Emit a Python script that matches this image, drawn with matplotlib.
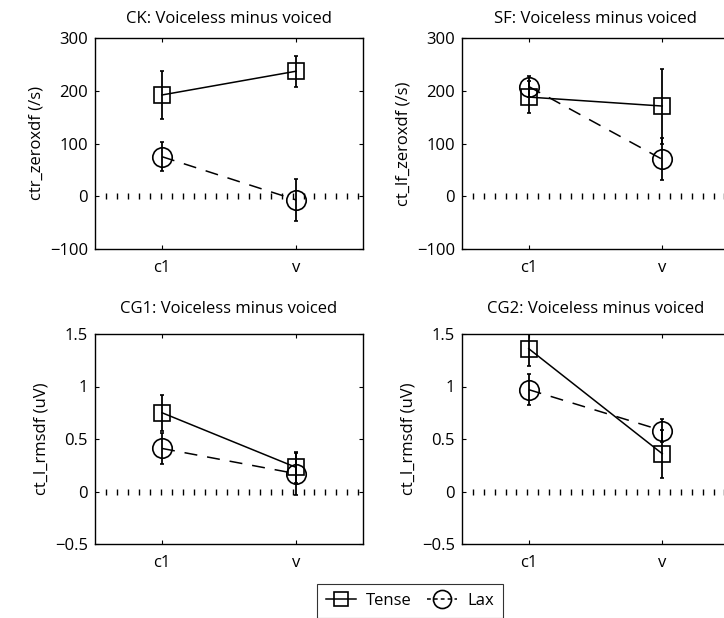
import numpy as np
import matplotlib
matplotlib.use("Agg")
import matplotlib.pyplot as plt
from matplotlib.lines import Line2D

plt.rcParams['font.family'] = ['Open Sans', 'DejaVu Sans']

categories = ['c1', 'v']
titles = ['CK: Voiceless minus voiced', 'SF: Voiceless minus voiced',
          'CG1: Voiceless minus voiced', 'CG2: Voiceless minus voiced']
ylabels = ['ctr_zeroxdf (/s)', 'ct_lf_zeroxdf (/s)', 'ct_l_rmsdf (uV)', 'ct_l_rmsdf (uV)']

tense_vals = [[192, 237], [188, 171], [0.75, 0.23], [1.36, 0.36]]
tense_err = [[45, 29], [30, 71], [0.17, 0.15], [0.16, 0.23]]
lax_vals = [[75, -7], [208, 70], [0.41, 0.17], [0.97, 0.58]]
lax_err = [[27, 40], [20, 40], [0.15, 0.20], [0.15, 0.11]]

ylims = [(-100, 300), (-100, 300), (-0.5, 1.5), (-0.5, 1.5)]
yticks = [[-100, 0, 100, 200, 300], [-100, 0, 100, 200, 300],
          [-0.5, 0, 0.5, 1, 1.5], [-0.5, 0, 0.5, 1, 1.5]]
yticklabels = [['\u2212100', '0', '100', '200', '300'], ['\u2212100', '0', '100', '200', '300'],
               ['\u22120.5', '0', '0.5', '1', '1.5'], ['\u22120.5', '0', '0.5', '1', '1.5']]
title_pads = [10.8, 10.8, 15, 15]

W, H = 724, 618
fig = plt.figure(figsize=(W / 100, H / 100), dpi=100)
rects = [(95, 38, 268, 211), (462, 38, 267, 211), (95, 334, 268, 210), (462, 334, 267, 210)]

xpos = np.arange(1, len(categories) + 1)
fs = 12
for i, (l, t, w, h) in enumerate(rects):
    ax = fig.add_axes([l / W, 1 - (t + h) / H, w / W, h / H])
    # zero reference dotted line
    zx = np.arange(0.58, 2.49, 0.082)
    ax.plot(zx, np.zeros_like(zx), ls='none', marker='|', ms=4, mew=1.0, color='black')
    ax.errorbar(xpos, tense_vals[i], yerr=tense_err[i], color='black', lw=1.1,
                marker='s', ms=11.5, mfc='none', mec='black', mew=1.2,
                ls='-', capsize=1.5, elinewidth=1.3)
    ax.errorbar(xpos, lax_vals[i], yerr=lax_err[i], color='black', lw=1.1,
                marker='o', ms=14, mfc='none', mec='black', mew=1.2,
                ls=(0, (8.5, 6.5)), capsize=1.5, elinewidth=1.3)
    ax.set_xlim(0.5, 2.5)
    ax.set_ylim(*ylims[i])
    ax.set_xticks(xpos)
    ax.set_xticklabels(categories)
    ax.set_yticks(yticks[i])
    ax.set_yticklabels(yticklabels[i])
    ax.tick_params(direction='in', length=3, top=True, right=True, labelsize=fs, pad=5, width=0.8)
    ax.tick_params(axis='x', pad=8)
    ax.set_title(titles[i], fontsize=fs, pad=title_pads[i])
    ax.set_ylabel(ylabels[i], fontsize=fs, labelpad=4)
    for s in ax.spines.values():
        s.set_linewidth(1.0)

handles = [Line2D([], [], color='black', marker='s', ms=10, mfc='none', mew=1.2, lw=1.1),
           Line2D([], [], color='black', marker='o', ms=13, mfc='none', mew=1.2, lw=1.1,
                  ls=(0, (2.5, 2)))]
leg = fig.legend(handles, ['Tense', 'Lax'], loc='upper left', bbox_to_anchor=(317 / W, 1 - 584 / H),
                 ncol=2, frameon=True, fancybox=False, fontsize=fs, handlelength=1.8,
                 handletextpad=0.6, columnspacing=0.9, borderpad=0.55, borderaxespad=0)
leg.get_frame().set_edgecolor('black')
leg.get_frame().set_linewidth(0.8)

fig.savefig('out.png', dpi=100)
